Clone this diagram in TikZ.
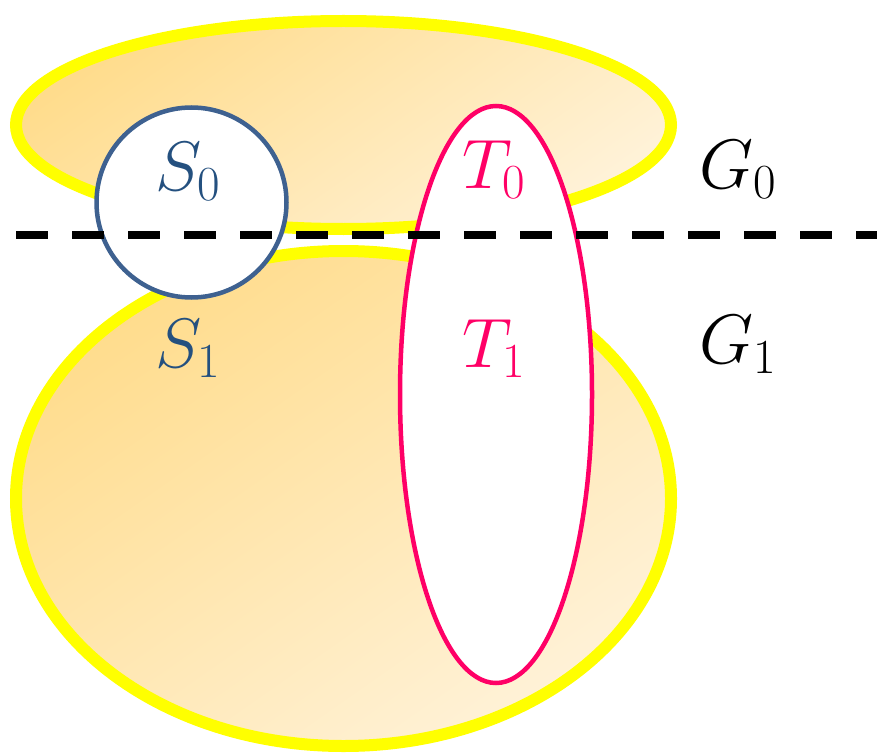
\RequirePackage{fix-cm}
\documentclass[tikz,border=0pt]{standalone}
\usepackage{tikz}
\usetikzlibrary{positioning}
\definecolor{cyellow}{HTML}{FFFF00}
\definecolor{cdark}{HTML}{FFDC8C}
\definecolor{clight}{HTML}{FFF2D8}
\definecolor{cnavy}{HTML}{3E6190}
\definecolor{cnavytext}{HTML}{24507F}
\definecolor{cpink}{HTML}{FF0066}

\begin{document}
\begin{tikzpicture}[x=1pt,y=-1pt,every node/.style={font=\fontsize{70}{84}\selectfont,inner sep=0pt,anchor=base}]
  \useasboundingbox (0,0) rectangle (877,754);
  % the two parts G_0 and G_1
  \draw[cyellow,line width=12pt,top color=cdark,bottom color=clight,shading angle=35] (343.5,125) ellipse [x radius=327.5,y radius=104];
  \draw[cyellow,line width=12pt,top color=cdark,bottom color=clight,shading angle=35] (343.5,498.5) ellipse [x radius=327.5,y radius=247.5];
  % S and T
  \draw[cnavy,line width=4.5pt,fill=white] (191.5,202.5) circle [radius=95];
  \draw[cpink,line width=4.5pt,fill=white] (496,394.5) ellipse [x radius=96,y radius=288.5];
  % cut
  \coordinate (cutl) at (16,235);
  \coordinate (cutr) at (877,235);
  \draw[black,line width=8pt,dash pattern=on 32pt off 24pt] (cutl) -- (cutr);
  % labels
  \node[cnavytext] (s0) at (188,190) {$S_0$};
  \node[cnavytext] (s1) at (188,367) {$S_1$};
  \node[cpink] (t0) at (494,188) {$T_0$};
  \node[cpink] (t1) at (494,367) {$T_1$};
  \node (g0) at (738,188) {$G_0$};
  \node (g1) at (738,363) {$G_1$};
\end{tikzpicture}
\end{document}
